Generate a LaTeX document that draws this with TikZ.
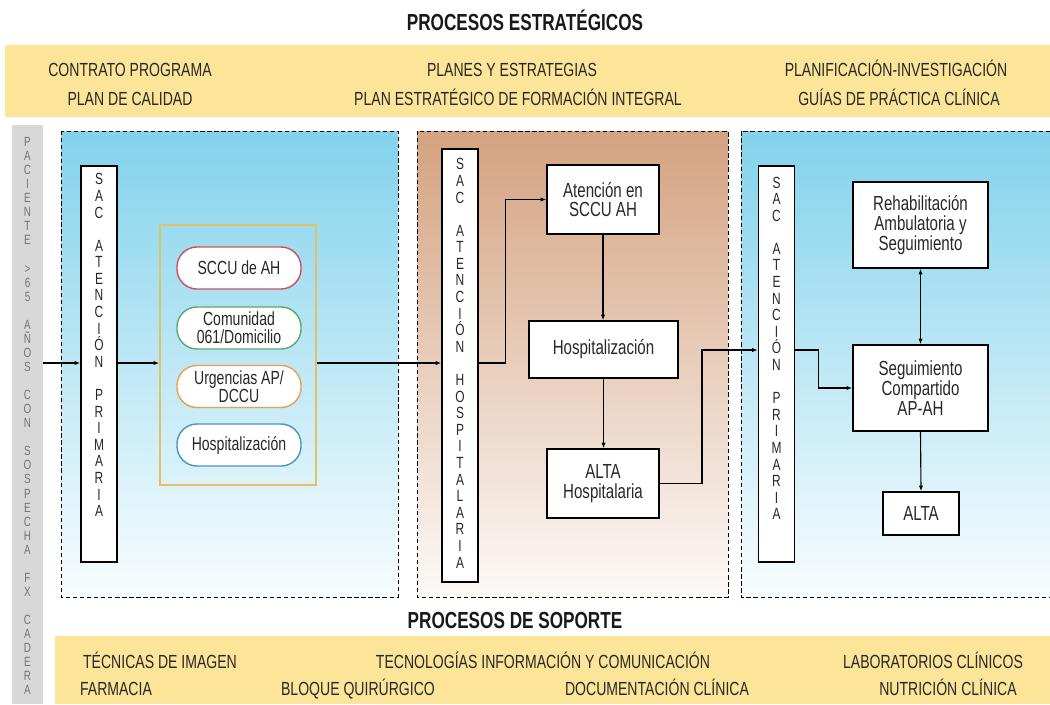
\documentclass[tikz,border=0pt]{standalone}
\usepackage{fontspec}
\setmainfont{Liberation Sans}[FakeStretch=0.74]
\usetikzlibrary{arrows.meta,positioning,calc}

\definecolor{amarillo}{RGB}{252,229,152}
\definecolor{celeste}{RGB}{130,210,236}
\definecolor{tostado}{RGB}{212,162,128}
\definecolor{gris}{RGB}{216,216,216}
\definecolor{texto}{RGB}{40,40,40}
\definecolor{borderojo}{RGB}{208,80,90}
\definecolor{bordeverde}{RGB}{90,170,105}
\definecolor{bordenaranja}{RGB}{232,160,80}
\definecolor{bordeazul}{RGB}{70,150,190}
\definecolor{bordegrupo}{RGB}{226,192,100}

\begin{document}
\begin{tikzpicture}[x=0.025cm,y=-0.025cm,
    caja/.style={draw,fill=white,line width=1pt,align=center,text=texto,font=\fontsize{14.5}{14}\selectfont},
    sac/.style={draw,fill=white,line width=1pt,minimum width=0.9cm,inner sep=0pt},
    letras/.style={anchor=north,align=center,inner sep=0pt,text=texto,font=\fontsize{11.5}{11.8}\selectfont},
    grisletras/.style={anchor=north,align=center,inner sep=0pt,text=black!55,font=\fontsize{9.5}{10}\selectfont},
    pastilla/.style={draw,fill=white,rounded corners=0.5cm,line width=1pt,minimum width=3.1cm,minimum height=1.05cm,align=center,text=texto,font=\fontsize{13.5}{13}\selectfont},
    flecha/.style={-{Latex[length=4pt,width=3pt]},line width=0.8pt},
    dflecha/.style={{Latex[length=4pt,width=3pt]}-{Latex[length=4pt,width=3pt]},line width=0.8pt},
    zona/.style={dash pattern=on 3pt off 2pt,line width=0.7pt},
    banda/.style={anchor=base,text=texto,font=\fontsize{13.5}{14}\selectfont},
    titulo/.style={anchor=base,text=black!90,font=\fontsize{16.5}{17}\selectfont\bfseries}]

    \useasboundingbox (0,0) rectangle (1050,704);

    % fondos
    \fill[amarillo] (5,45) rectangle (1050,117);
    \fill[gris] (12,125) rectangle (43,704);
    \shade[top color=celeste,bottom color=celeste!5] (61,131) rectangle (398,597);
    \draw[zona] (61,131) rectangle (398,597);
    \shade[top color=tostado,bottom color=tostado!6] (417,131) rectangle (728,597);
    \draw[zona] (417,131) rectangle (728,597);
    \shade[top color=celeste,bottom color=celeste!5] (741,131) rectangle (1050,597);
    \draw[zona] (1050,131) -- (741,131) -- (741,597) -- (1050,597);
    \fill[amarillo] (55,636) rectangle (1050,704);

    % procesos estrategicos
    \node[titulo] (tit1) at (525,30) {PROCESOS ESTRATÉGICOS};
    \node[banda] (e1) at (130,76) {CONTRATO PROGRAMA};
    \node[banda] (e2) at (130,105) {PLAN DE CALIDAD};
    \node[banda] (e3) at (512,76) {PLANES Y ESTRATEGIAS};
    \node[banda] (e4) at (518,105) {PLAN ESTRATÉGICO DE FORMACIÓN INTEGRAL};
    \node[banda] (e5) at (896,76) {PLANIFICACIÓN-INVESTIGACIÓN};
    \node[banda] (e6) at (899,105) {GUÍAS DE PRÁCTICA CLÍNICA};

    % paciente
    \node[grisletras] (paciente) at (27.5,137) {P\\A\\C\\I\\E\\N\\T\\E\\~\\>\\6\\5\\~\\A\\Ñ\\O\\S\\~\\C\\O\\N\\~\\S\\O\\S\\P\\E\\C\\H\\A\\~\\F\\X\\~\\C\\A\\D\\E\\R\\A};

    % atencion primaria
    \node[sac,minimum height=9.9cm] (sac1) at (99,364) {};
    \node[letras] (sac1txt) at ([yshift=-0.2cm]sac1.north) {S\\A\\C\\~\\A\\T\\E\\N\\C\\I\\Ó\\N\\~\\P\\R\\I\\M\\A\\R\\I\\A};
    \node[draw=bordegrupo,line width=1pt,minimum width=3.9cm,minimum height=6.5cm] (grupo) at (238,355) {};
    \node[pastilla,draw=borderojo] (sccu) at (239,268) {SCCU de AH};
    \node[pastilla,draw=bordeverde] (comunidad) at (239,328) {Comunidad\\061/Domicilio};
    \node[pastilla,draw=bordenaranja] (urgencias) at (239,386.5) {Urgencias AP/\\DCCU};
    \node[pastilla,draw=bordeazul] (hospap) at (239,445) {Hospitalización};

    % atencion hospitalaria
    \node[sac,minimum height=10.825cm] (sac2) at (460,365.5) {};
    \node[letras] (sac2txt) at ([yshift=-0.25cm]sac2.north) {S\\A\\C\\~\\A\\T\\E\\N\\C\\I\\Ó\\N\\~\\H\\O\\S\\P\\I\\T\\A\\L\\A\\R\\I\\A};
    \node[caja,minimum width=2.8cm,minimum height=1.725cm] (atencion) at (603,199.5) {Atención en\\SCCU AH};
    \node[caja,minimum width=3.725cm,minimum height=1.425cm] (hosp) at (603.5,349.5) {Hospitalización};
    \node[caja,minimum width=2.8cm,minimum height=1.725cm] (altah) at (603,483.5) {ALTA\\Hospitalaria};

    % vuelta a primaria
    \node[sac,minimum height=9.9cm] (sac3) at (776.5,364) {};
    \node[letras] (sac3txt) at ([yshift=-0.28cm]sac3.north) {S\\A\\C\\~\\A\\T\\E\\N\\C\\I\\Ó\\N\\~\\P\\R\\I\\M\\A\\R\\I\\A};
    \node[caja,minimum width=3.375cm,minimum height=2.15cm] (rehab) at (920.5,225) {Rehabilitación\\Ambulatoria y\\Seguimiento};
    \node[caja,minimum width=3.375cm,minimum height=2.15cm] (seguim) at (920.5,388) {Seguimiento\\Compartido\\AP-AH};
    \node[caja,minimum width=1.9cm,minimum height=1.075cm] (alta) at (921,513.5) {ALTA};

    % flechas
    \coordinate (entrada) at (43,363);
    \coordinate (enlace) at (702,350);
    \draw[flecha] (entrada) -- (entrada -| sac1.west);
    \draw[flecha] (entrada -| sac1.east) -- (entrada -| grupo.west);
    \draw[flecha] (entrada -| grupo.east) -- (entrada -| sac2.west);
    \draw[flecha] (entrada -| sac2.east) -- ++(27,0) |- (atencion.west);
    \draw[flecha] (atencion.south) -- (atencion.south |- hosp.north);
    \draw[flecha] (hosp.south) -- (hosp.south |- altah.north);
    \draw[flecha] (altah.east) -| (enlace) -- (enlace -| sac3.west);
    \draw[flecha] (enlace -| sac3.east) -- ++(23,0) |- (seguim.west);
    \draw[dflecha] (rehab.south) -- (seguim.north);
    \draw[flecha] (seguim.south) -- (alta.north);

    % procesos de soporte
    \node[titulo] (tit2) at (515,628) {PROCESOS DE SOPORTE};
    \node[banda] (s1) at (160,668) {TÉCNICAS DE IMAGEN};
    \node[banda] (s2) at (543,668) {TECNOLOGÍAS INFORMACIÓN Y COMUNICACIÓN};
    \node[banda] (s3) at (933,668) {LABORATORIOS CLÍNICOS};
    \node[banda] (s4) at (116,695) {FARMACIA};
    \node[banda] (s5) at (358,695) {BLOQUE QUIRÚRGICO};
    \node[banda] (s6) at (657,695) {DOCUMENTACIÓN CLÍNICA};
    \node[banda] (s7) at (948,695) {NUTRICIÓN CLÍNICA};
\end{tikzpicture}
\end{document}
